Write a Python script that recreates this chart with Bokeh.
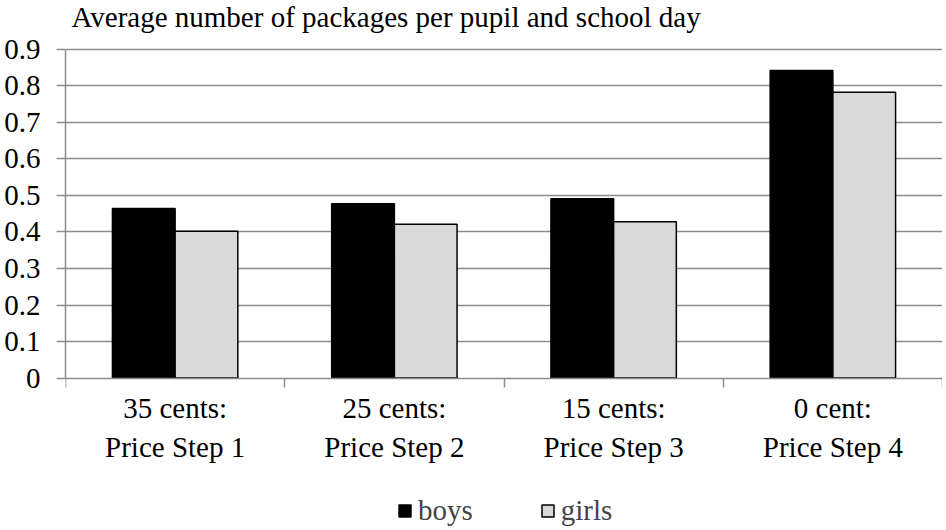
from bokeh.plotting import figure
from bokeh.models import Range1d, FixedTicker, LinearAxis, Legend, LegendItem, ColumnDataSource, Grid, Label
from bokeh.embed import file_html
from bokeh.resources import INLINE

categories = ["35 cents:\nPrice Step 1", "25 cents:\nPrice Step 2", "15 cents:\nPrice Step 3", "0 cent:\nPrice Step 4"]
boys = [0.464, 0.477, 0.491, 0.842]
girls = [0.402, 0.421, 0.428, 0.782]
y_ticks = [0, 0.1, 0.2, 0.3, 0.4, 0.5, 0.6, 0.7, 0.8, 0.9]
y_tick_labels = ["0", "0.1", "0.2", "0.3", "0.4", "0.5", "0.6", "0.7", "0.8", "0.9"]
title_text = "Average number of packages per pupil and school day"

FONT = "Liberation Serif"
FS = "29px"
GRID = "#8c8c8c"
bar_w = 0.286

# layout (pixels inside the figure)
FIG_W, FIG_H = 942, 528
BORDER_LEFT = 65
ZERO_PX = 377.6          # vertical pixel of value 0
TOP_PX = 48.7            # vertical pixel of value 0.9
Y_MAX = 0.9
px_per_unit = (ZERO_PX - TOP_PX) / Y_MAX
y_top = Y_MAX + TOP_PX / px_per_unit
y_min = -(FIG_H - ZERO_PX) / px_per_unit
TITLE_BASELINE = 16.5

n = len(categories)
centers = [i + 0.5 for i in range(n)]
src = ColumnDataSource(dict(
    xb=[c - bar_w / 2 for c in centers],
    xg=[c + bar_w / 2 for c in centers],
    boys=boys, girls=girls))

p = figure(width=FIG_W, height=FIG_H,
           x_range=Range1d(0, n), y_range=Range1d(y_min, y_top),
           output_backend="svg", toolbar_location=None, x_axis_type=None, y_axis_type=None,
           min_border_left=BORDER_LEFT, min_border_right=0, min_border_top=0, min_border_bottom=0)
p.outline_line_color = None
p.background_fill_color = "white"
p.border_fill_color = "white"
p.title.text = ""
p.title.visible = False

r1 = p.vbar(x="xb", top="boys", width=bar_w, source=src, fill_color="black", line_color="black", line_width=1.5)
r2 = p.vbar(x="xg", top="girls", width=bar_w, source=src, fill_color="#d9d9d9", line_color="black", line_width=1.5)

grid = Grid(dimension=1, ticker=FixedTicker(ticks=y_ticks[1:]), grid_line_color=GRID, grid_line_width=1.5)
p.add_layout(grid)

yaxis = LinearAxis(ticker=FixedTicker(ticks=y_ticks, minor_ticks=[]), bounds=(0, Y_MAX))
yaxis.major_label_overrides = {t: l for t, l in zip(y_ticks, y_tick_labels)}
yaxis.axis_line_color = GRID
yaxis.axis_line_width = 1.5
yaxis.major_tick_line_color = GRID
yaxis.major_tick_line_width = 1.5
yaxis.major_tick_in = 0
yaxis.major_tick_out = 9
yaxis.minor_tick_out = 0
yaxis.major_label_standoff = 16
yaxis.major_label_text_font = FONT
yaxis.major_label_text_font_size = FS
yaxis.major_label_text_color = "black"
p.add_layout(yaxis, "left")

xaxis = LinearAxis(ticker=FixedTicker(ticks=centers, minor_ticks=list(range(n + 1))), fixed_location=0)
xaxis.major_label_overrides = {c: l for c, l in zip(centers, categories)}
xaxis.axis_line_color = GRID
xaxis.axis_line_width = 1.5
xaxis.major_tick_line_color = None
xaxis.major_tick_in = 0
xaxis.major_tick_out = 9
xaxis.minor_tick_line_color = GRID
xaxis.minor_tick_line_width = 1.5
xaxis.minor_tick_in = 0
xaxis.minor_tick_out = 9
xaxis.major_label_standoff = 5
xaxis.major_label_text_font = FONT
xaxis.major_label_text_font_size = FS
xaxis.major_label_text_color = "black"
p.add_layout(xaxis, "below")

title = Label(x=6, y=FIG_H - TITLE_BASELINE, x_units="screen", y_units="screen", text=title_text,
              text_font=FONT, text_font_size=FS, text_color="black",
              text_align="left", text_baseline="alphabetic")
p.add_layout(title)

legend = Legend(items=[LegendItem(label="boys", renderers=[r1]), LegendItem(label="girls", renderers=[r2])],
                orientation="horizontal", location=(332, 1))
legend.label_text_font = FONT
legend.label_text_font_size = FS
legend.glyph_width = 15
legend.glyph_height = 15
legend.label_standoff = 6
legend.spacing = 67
legend.padding = 0
legend.margin = 0
legend.border_line_color = None
legend.background_fill_alpha = 0
p.add_layout(legend, "center")

open("out.html", "w").write(file_html(p, INLINE))
